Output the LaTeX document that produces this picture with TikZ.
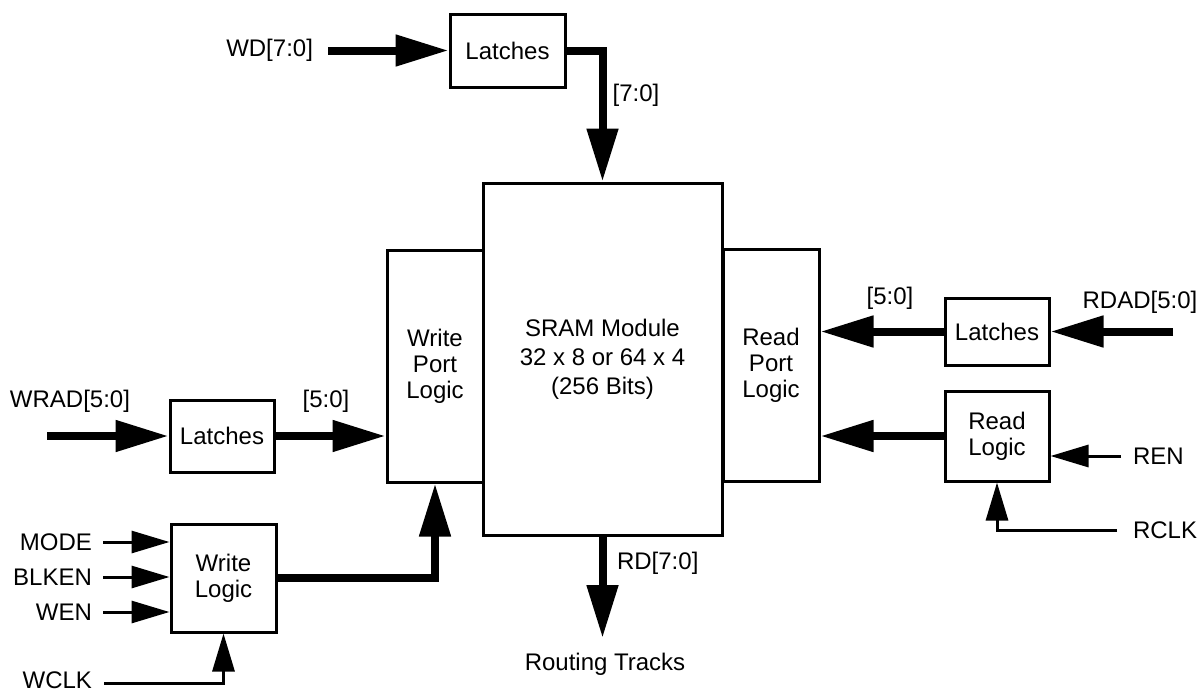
\documentclass[tikz,border=0pt]{standalone}
\usepackage{fontspec}
\setmainfont{Liberation Sans}
\usetikzlibrary{arrows.meta}

\begin{document}
\begin{tikzpicture}[x=0.5pt,y=-0.5pt,
  font=\fontsize{12}{13}\selectfont,
  box/.style={rectangle,draw,line width=1.5pt,align=center,inner sep=0pt},
  bus/.style={line width=4pt,-{Triangle[length=26.5pt,width=15pt]}},
  sig/.style={line width=1.5pt,-{Triangle[length=19pt,width=11pt]}}]
\useasboundingbox (0,0) rectangle (1200,691);

% blocks
\path (602.5,359) node[box,minimum width=119.5pt,minimum height=176pt,font=\fontsize{12}{14.5}\selectfont] (sram) {SRAM Module\\32 x 8 or 64 x 4\\(256 Bits)};
\path (435,366) node[box,minimum width=48pt,minimum height=116pt] (wport) {Write\\Port\\Logic};
\path (771,365) node[box,minimum width=48pt,minimum height=116pt] (rport) {Read\\Port\\Logic};
\path (507.5,50.5) node[box,minimum width=57.5pt,minimum height=36.5pt] (latW) {Latches};
\path (222,436) node[box,minimum width=52pt,minimum height=36pt] (latA) {Latches};
\path (223.5,578) node[box,minimum width=52.5pt,minimum height=54pt] (wlog) {Write\\Logic};
\path (997,331.5) node[box,minimum width=52pt,minimum height=33.5pt] (latR) {Latches};
\path (997,436) node[box,minimum width=52pt,minimum height=45pt] (rlog) {Read\\Logic};

% free ends
\coordinate (wd) at (328,50.5);
\coordinate (wrad) at (47,436);
\coordinate (rdad) at (1173,331.5);
\coordinate (mode) at (103,542);
\coordinate (blken) at (103,577);
\coordinate (wen) at (103,612);
\coordinate (wclk) at (104,683);
\coordinate (ren) at (1121,456);
\coordinate (rclk) at (1117,530);
\coordinate (rd) at (602.5,638);

% text
\path (320,50.5) node[anchor=east] (twd) {WD[7:0]};
\path (636,95) node (tw70) {[7:0]};
\path (70,401) node (twrad) {WRAD[5:0]};
\path (326,401) node (tw50) {[5:0]};
\path (1140,302) node (trdad) {RDAD[5:0]};
\path (890,298) node (tr50) {[5:0]};
\path (99,542) node[anchor=east] (tmode) {MODE};
\path (99,577) node[anchor=east] (tblken) {BLKEN};
\path (99,612) node[anchor=east] (twen) {WEN};
\path (99,680) node[anchor=east] (twclk) {WCLK};
\path (1126,456) node[anchor=west] (tren) {REN};
\path (1126,530) node[anchor=west] (trclk) {RCLK};
\path (610,563) node[anchor=west] (trd) {RD[7:0]};
\path (605,664) node (troute) {Routing Tracks};

% buses
\draw[bus] (wd) -- (latW.west);
\draw[bus] (latW.east) -| (sram.north);
\draw[bus] (wrad) -- (latA.west);
\draw[bus] (latA.east) -- (latA.east -| wport.west);
\draw[bus] (wlog.east) -| (wport.south);
\draw[bus] (rdad) -- (latR.east);
\draw[bus] (latR.west) -- (latR.west -| rport.east);
\draw[bus] (rlog.west) -- (rlog.west -| rport.east);
\draw[bus] (sram.south) -- (rd);

% control signals
\draw[sig] (mode) -- (mode -| wlog.west);
\draw[sig] (blken) -- (blken -| wlog.west);
\draw[sig] (wen) -- (wen -| wlog.west);
\draw[sig] (wclk) -| (wlog.south);
\draw[sig] (ren) -- (ren -| rlog.east);
\draw[sig] (rclk) -| (rlog.south);
\end{tikzpicture}
\end{document}
